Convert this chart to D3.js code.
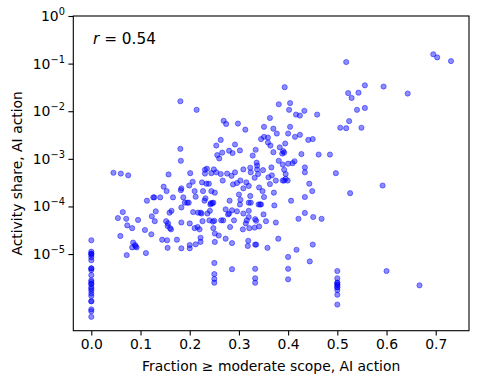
<!DOCTYPE html>
<html>
<head>
<meta charset="utf-8">
<script src="https://cdn.jsdelivr.net/npm/d3@7"></script>
<style>
  body { margin: 0; background: #fff; }
  svg { font-family: "DejaVu Sans", sans-serif; }
</style>
</head>
<body>
<svg id="chart" width="479" height="384"></svg>
<script>
const width = 479
const height = 384
const margin = { top: 16, right: 10, bottom: 53.3, left: 73.3 }

// [fraction >= moderate scope, activity share] pairs, grouped by x band
const zeroScope = [
  [0, 1.95e-5], [0, 1.12e-5], [0, 1.02e-5], [0, 1.02e-5], [0, 9.5e-6], [0, 8.5e-6],
  [0, 7.4e-6], [0, 5.0e-6], [0, 5.0e-6], [0, 4.6e-6], [0, 3.6e-6], [0, 2.8e-6],
  [0, 2.6e-6], [0, 2.35e-6], [0, 2.35e-6], [0, 2.0e-6], [0, 1.86e-6], [0, 1.7e-6],
  [0, 1.48e-6], [0, 1.32e-6], [0, 1.02e-6], [0, 1.02e-6], [0, 6.9e-7], [0, 6.3e-7],
  [0, 4.8e-7]
]

const lowScope = [
  [0.045, 5.1e-4], [0.060, 4.9e-4], [0.075, 4.5e-4], [0.064, 7.6e-5], [0.054, 5.7e-5],
  [0.071, 5.5e-5], [0.095, 5.2e-5], [0.073, 4.0e-5], [0.083, 3.5e-5], [0.059, 2.4e-5],
  [0.085, 1.74e-5], [0.089, 1.55e-5], [0.083, 1.38e-5], [0.092, 1.38e-5], [0.090, 1.45e-5],
  [0.072, 9.5e-6], [0.111, 1.05e-5], [0.109, 3.2e-5], [0.122, 2.6e-5], [0.113, 1.32e-4],
  [0.126, 1.55e-4], [0.128, 1.55e-4], [0.140, 1.55e-4], [0.131, 7.9e-5], [0.123, 6.2e-5],
  [0.129, 4.9e-5], [0.152, 4.9e-5], [0.147, 2.6e-4], [0.153, 2.1e-4], [0.157, 4.7e-4],
  [0.166, 1.55e-4], [0.159, 7.4e-5], [0.163, 8.1e-5], [0.155, 3.9e-5], [0.162, 3.3e-5],
  [0.156, 4.4e-5], [0.160, 3.5e-5], [0.144, 2.0e-5], [0.154, 1.95e-5], [0.155, 1.35e-5],
  [0.174, 2.0e-5], [0.183, 1.32e-5], [0.181, 1.62e-3], [0.182, 9.1e-4], [0.181, 1.62e-2],
  [0.183, 4.6e-5], [0.183, 9.5e-5], [0.190, 1.2e-4], [0.195, 1.2e-4], [0.198, 1.2e-4],
  [0.182, 2.2e-4], [0.183, 2.4e-4], [0.187, 1.55e-4]
]

const midScope = [
  [0.199, 2.75e-4], [0.206, 3.3e-4], [0.201, 5.0e-4], [0.200, 1.55e-5], [0.200, 1.32e-5],
  [0.200, 4.4e-5], [0.212, 1.6e-5], [0.222, 2.2e-5], [0.222, 1.8e-5], [0.220, 3.3e-5],
  [0.216, 3.7e-5], [0.210, 2.1e-4], [0.212, 1.6e-4], [0.207, 7.6e-5], [0.217, 7.4e-5],
  [0.222, 7.4e-5], [0.224, 7.1e-5], [0.210, 3.5e-5], [0.214, 1.07e-2], [0.227, 2.1e-4],
  [0.225, 3.2e-4], [0.231, 4.9e-4], [0.231, 5.9e-4], [0.235, 6.2e-4], [0.234, 3.0e-4],
  [0.239, 3.0e-4], [0.232, 1.48e-4], [0.230, 1.32e-4], [0.244, 2.1e-4], [0.251, 1.95e-4],
  [0.243, 1.17e-4], [0.246, 1.17e-4], [0.248, 1.2e-4], [0.242, 1.1e-4], [0.241, 8.1e-5],
  [0.236, 7.1e-5], [0.240, 5.1e-5], [0.226, 4.9e-5], [0.247, 4.8e-5], [0.250, 5.0e-5],
  [0.248, 3.5e-5], [0.251, 2.7e-5], [0.259, 2.45e-5], [0.251, 1.8e-5], [0.273, 2.1e-5],
  [0.286, 1.7e-5], [0.249, 6.0e-4], [0.254, 5.2e-4], [0.244, 5.0e-4], [0.263, 4.8e-4],
  [0.267, 3.5e-4], [0.276, 4.9e-4], [0.285, 4.4e-4], [0.292, 5.2e-4], [0.288, 2.9e-4],
  [0.296, 3.1e-4], [0.263, 2.5e-3], [0.254, 1.9e-3], [0.292, 2.0e-3], [0.280, 1.48e-3],
  [0.287, 1.32e-3], [0.256, 1.2e-3], [0.266, 1.35e-3], [0.260, 1.02e-3], [0.269, 6.3e-3],
  [0.274, 5.4e-3], [0.298, 5.5e-3], [0.281, 1.32e-4], [0.273, 8.7e-5], [0.278, 6.8e-5],
  [0.280, 7.1e-5], [0.286, 8.3e-5], [0.296, 7.9e-5], [0.290, 5.1e-5], [0.268, 5.1e-5],
  [0.264, 5.1e-5], [0.282, 3.7e-5], [0.250, 6.5e-6], [0.250, 3.8e-6], [0.250, 3.0e-6],
  [0.250, 2.5e-6], [0.286, 4.8e-6]
]

const highScope = [
  [0.300, 1.78e-4], [0.303, 1.38e-4], [0.302, 1.1e-4], [0.303, 3.5e-4], [0.302, 1.5e-3],
  [0.313, 4.1e-3], [0.320, 1.2e-4], [0.324, 1.2e-4], [0.315, 3.2e-4], [0.320, 2.7e-4],
  [0.309, 2.4e-4], [0.341, 2.5e-4], [0.348, 2.1e-4], [0.351, 1.58e-4], [0.340, 1.1e-4],
  [0.343, 1.1e-4], [0.345, 1.1e-4], [0.309, 7.1e-5], [0.320, 8.1e-5], [0.320, 6.0e-5],
  [0.333, 5.4e-5], [0.335, 5.0e-5], [0.316, 5.1e-5], [0.314, 4.4e-5], [0.308, 3.3e-5],
  [0.321, 3.5e-5], [0.332, 3.6e-5], [0.341, 3.8e-5], [0.355, 4.9e-5], [0.350, 6.8e-5],
  [0.319, 1.9e-5], [0.318, 1.48e-5], [0.333, 1.58e-5], [0.335, 1.58e-5], [0.358, 1.35e-5],
  [0.363, 2.95e-4], [0.360, 4.1e-4], [0.332, 4.0e-4], [0.323, 6.5e-4], [0.309, 6.0e-4],
  [0.336, 8.3e-4], [0.337, 7.2e-4], [0.337, 6.0e-4], [0.324, 5.2e-4], [0.339, 4.8e-4],
  [0.349, 5.8e-4], [0.366, 6.6e-4], [0.367, 4.5e-4], [0.375, 3.5e-4], [0.323, 1.66e-4],
  [0.334, 1.55e-3], [0.328, 1.17e-3], [0.351, 4.7e-3], [0.370, 4.3e-3], [0.377, 3.4e-3],
  [0.363, 7.2e-3], [0.351, 2.9e-3], [0.359, 2.8e-3], [0.345, 2.6e-3], [0.359, 2.2e-3],
  [0.364, 1.9e-3], [0.370, 1.38e-3], [0.383, 1.74e-3], [0.394, 2.1e-3], [0.390, 1.45e-3],
  [0.388, 1.29e-3], [0.392, 1.35e-3], [0.381, 9.1e-4], [0.389, 7.6e-4], [0.392, 5.9e-4],
  [0.395, 4.8e-4], [0.392, 3.5e-4], [0.399, 3.5e-4], [0.389, 3.5e-4], [0.395, 3.8e-4],
  [0.371, 1.95e-4], [0.372, 1.05e-4], [0.375, 4.6e-5], [0.380, 2.1e-5], [0.381, 1.4e-2],
  [0.393, 3.2e-2], [0.333, 4.9e-6], [0.333, 3.1e-6], [0.333, 2.5e-6]
]

const topScope = [
  [0.404, 1.48e-2], [0.402, 1.07e-2], [0.433, 1.02e-2], [0.416, 8.5e-3], [0.424, 8.1e-3],
  [0.459, 8.5e-3], [0.404, 4.7e-3], [0.400, 3.4e-3], [0.414, 2.9e-3], [0.424, 3.2e-3],
  [0.441, 2.5e-3], [0.450, 2.6e-3], [0.413, 8.9e-4], [0.409, 8.1e-4], [0.400, 7.9e-4],
  [0.462, 1.23e-3], [0.485, 1.23e-3], [0.427, 1.26e-3], [0.434, 6.6e-4], [0.434, 5.2e-4],
  [0.497, 5.0e-4], [0.443, 3.0e-4], [0.449, 2.1e-4], [0.434, 1.58e-4], [0.406, 1.32e-4],
  [0.434, 7.3e-5], [0.451, 6.0e-5], [0.421, 5.5e-5], [0.468, 5.5e-5], [0.592, 2.75e-4],
  [0.526, 1.9e-4], [0.417, 1.23e-5], [0.400, 8.7e-6], [0.450, 1.58e-5], [0.444, 7.0e-6],
  [0.400, 4.9e-6], [0.400, 2.95e-6], [0.600, 4.4e-6], [0.667, 2.2e-6],
  [0.5, 4.4e-6], [0.5, 3.1e-6], [0.5, 2.5e-6], [0.5, 2.5e-6], [0.5, 2.25e-6], [0.5, 2.25e-6],
  [0.5, 2.0e-6], [0.5, 2.0e-6], [0.5, 1.75e-6], [0.5, 1.4e-6], [0.5, 8.7e-7],
  [0.518, 0.108], [0.695, 0.157], [0.703, 0.135], [0.731, 0.113], [0.522, 2.4e-2],
  [0.529, 1.9e-2], [0.543, 2.45e-2], [0.556, 3.5e-2], [0.594, 3.3e-2], [0.643, 2.35e-2],
  [0.540, 1.07e-2], [0.556, 1.17e-2], [0.524, 6.2e-3], [0.506, 4.5e-3], [0.518, 4.4e-3],
  [0.549, 4.5e-3]
]

const xTicks = [0, 0.1, 0.2, 0.3, 0.4, 0.5, 0.6, 0.7]
const yTickExponents = [-5, -4, -3, -2, -1, 0]
const rValue = 0.54

const points = [...zeroScope, ...lowScope, ...midScope, ...highScope, ...topScope]

const svg = d3.select("#chart")

const x = d3.scaleLinear()
    .domain([-0.0366, 0.7676])
    .range([margin.left, width - margin.right])

const y = d3.scaleLog()
    .domain([Math.pow(10, -6.61), 1])
    .range([height - margin.bottom, margin.top])

// points
svg.append("g")
    .selectAll("circle")
    .data(points)
    .join("circle")
    .attr("cx", d => x(d[0]))
    .attr("cy", d => y(d[1]))
    .attr("r", 2.6)
    .attr("fill", "blue")
    .attr("fill-opacity", 0.45)
    .attr("stroke", "blue")
    .attr("stroke-opacity", 0.45)
    .attr("stroke-width", 1)

const xAxis = g => g
    .attr("transform", `translate(0,${height - margin.bottom})`)
    .call(d3.axisBottom(x).tickValues(xTicks).tickFormat(d3.format(".1f")).tickSize(4.9).tickPadding(3.5).tickSizeOuter(0))
    .call(g => g.select(".domain").remove())

const yAxis = g => g
    .attr("transform", `translate(${margin.left},0)`)
    .call(d3.axisLeft(y).tickValues(yTickExponents.map(e => Math.pow(10, e))).tickFormat("").tickSize(4.9).tickPadding(3.5).tickSizeOuter(0))
    .call(g => g.select(".domain").remove())

svg.append("g").call(xAxis)
    .call(g => g.selectAll("text").attr("font-size", 13.9).attr("fill", "#000").attr("font-family", "DejaVu Sans"))
svg.append("g").call(yAxis)

svg.selectAll(".tick line").attr("stroke", "#000").attr("stroke-width", 1.1)

// y tick labels as 10 with superscript exponent
const yLabels = svg.append("g")
    .attr("font-size", 13.9)
    .attr("text-anchor", "end")
    .selectAll("text")
    .data(yTickExponents)
    .join("text")
    .attr("x", margin.left - 4.9 - 3.5)
    .attr("y", d => y(Math.pow(10, d)) + 5)
yLabels.append("tspan").text("10")
yLabels.append("tspan")
    .attr("font-size", 9.8)
    .attr("dy", -6)
    .text(d => d === 0 ? "0" : "\u2212" + Math.abs(d))

// frame
svg.append("rect")
    .attr("x", margin.left)
    .attr("y", margin.top)
    .attr("width", width - margin.right - margin.left)
    .attr("height", height - margin.bottom - margin.top)
    .attr("fill", "none")
    .attr("stroke", "#000")
    .attr("stroke-width", 1.1)

// axis labels
svg.append("text")
    .attr("x", (margin.left + width - margin.right) / 2)
    .attr("y", 371)
    .attr("text-anchor", "middle")
    .attr("font-size", 13.9)
    .text("Fraction \u2265 moderate scope, AI action")

svg.append("text")
    .attr("transform", `translate(22,${(margin.top + height - margin.bottom) / 2}) rotate(-90)`)
    .attr("text-anchor", "middle")
    .attr("font-size", 13.9)
    .text("Activity share, AI action")

// correlation annotation
const ann = svg.append("text")
    .attr("x", 93)
    .attr("y", 43.5)
    .attr("font-size", 15.3)
ann.append("tspan").attr("font-style", "italic").text("r")
ann.append("tspan").text(" = " + rValue.toFixed(2))
</script>
</body>
</html>
